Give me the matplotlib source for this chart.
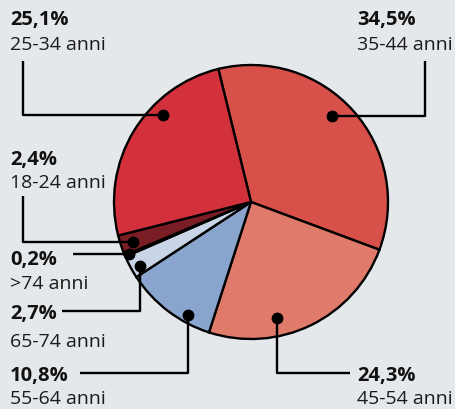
import matplotlib
matplotlib.use('Agg')
import matplotlib.pyplot as plt
import numpy as np

# data
labels = ['35-44 anni', '45-54 anni', '55-64 anni', '65-74 anni', '>74 anni', '18-24 anni', '25-34 anni']
shares = [34.5, 24.3, 10.8, 2.7, 0.2, 2.4, 25.1]
pct_text = ['34,5%', '24,3%', '10,8%', '2,7%', '0,2%', '2,4%', '25,1%']
colors = ['#d8504a', '#e07a6a', '#8aa5cd', '#c9d5e6', '#3a1a1c', '#7b1d24', '#d2303b']

W, H = 456, 410
BG = '#e5e8eb'

# dot placement inside each wedge: fraction along the arc, fraction of radius
dot_pos = [(0.54, 0.86), (0.35, 0.87), (0.71, 0.945), (0.67, 0.935), (0.2, 0.97), (0.5, 0.91), (0.35, 0.90)]
# leader: mode ('h' = horizontal first, 'v' = vertical first), end point (image px)
leaders = [('h', 425, 62), ('v', 350, 374), ('v', 80, 374), ('v', 62, 312),
           ('h', 73, None), ('h', 23, 197), ('h', 23, 62)]
# text anchor (x, y of bold line, y of second line), image px
text_pos = [(357, 20, 45), (357, 376, 399), (10, 376, 399), (10, 314, 342),
            (10, 260, 284), (10, 160, 183), (10, 20, 45)]

plt.rcParams['font.family'] = ['Open Sans', 'DejaVu Sans']

fig = plt.figure(figsize=(W / 100, H / 100), dpi=100, facecolor=BG)
ax = fig.add_axes([0, 0, 1, 1])
ax.set_facecolor(BG)

cx, cy, R = 251, H - 203, 137
wedges, _ = ax.pie(shares, colors=colors, startangle=103.8, counterclock=False,
                   center=(cx, cy), radius=R, frame=True,
                   wedgeprops=dict(edgecolor='black', linewidth=1.7))
ax.set_xlim(0, W)
ax.set_ylim(0, H)
ax.set_aspect('equal')
ax.axis('off')

for i, w in enumerate(wedges):
    f, rf = dot_pos[i]
    a = np.radians(w.theta1 + f * (w.theta2 - w.theta1))
    dx, dy = cx + rf * R * np.cos(a), cy + rf * R * np.sin(a)
    mode, ex, ey = leaders[i]
    if mode == 'h':
        xs = [dx, ex] if ey is None else [dx, ex, ex]
        ys = [dy, dy] if ey is None else [dy, dy, H - ey]
    else:
        xs = [dx, dx, ex]
        ys = [dy, H - ey, H - ey]
    ax.plot(xs, ys, color='black', lw=1.7, solid_capstyle='butt', zorder=5)
    ax.plot(dx, dy, 'o', color='black', ms=7.5, zorder=6)
    tx, ty1, ty2 = text_pos[i]
    ax.text(tx, H - ty1, pct_text[i], fontsize=14.5, fontweight='bold', color='#111111',
            ha='left', va='center')
    ax.text(tx, H - ty2, labels[i], fontsize=14, color='#1a1a1a', ha='left', va='center')

fig.savefig('out.png', dpi=100, facecolor=BG)
